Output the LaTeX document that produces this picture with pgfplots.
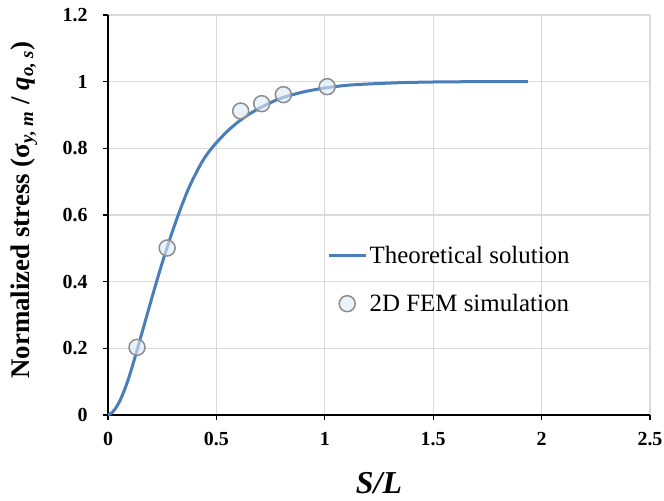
\documentclass[border=0pt]{standalone}
\usepackage{fontspec}
\setmainfont{Liberation Serif}
\usepackage{pgfplots}
\usetikzlibrary{calc}
\pgfplotsset{compat=1.18}
\definecolor{curve}{HTML}{4A7EBB}
\definecolor{mfill}{HTML}{DDEBF7}
\definecolor{medge}{HTML}{8C8C8C}
\definecolor{gridc}{HTML}{D9D9D9}
\begin{document}
\begin{tikzpicture}
\begin{axis}[
  scale only axis,
  width=542bp, height=400bp,
  xmin=0, xmax=2.5, ymin=0, ymax=1.2,
  xtick={0,0.5,1,1.5,2,2.5},
  ytick={0,0.2,0.4,0.6,0.8,1,1.2},
  axis x line*=bottom, axis y line*=left,
  axis line style={-, black, line width=1.2bp},
  grid=major,
  major grid style={gridc, line width=1.2bp},
  tick align=outside,
  major tick length=5bp,
  tick style={black, line width=1.2bp},
  /pgf/number format/assume math mode=true,
  ticklabel style={font=\fontsize{20}{20}\selectfont\bfseries},
  xticklabel style={yshift=-9bp},
  yticklabel style={xshift=-12bp},
  xlabel={\textbf{\textit{S/L}}},
  every axis x label/.style={at={(axis description cs:0.5,-0.17)}, anchor=center, font=\fontsize{32}{32}\selectfont},
  ylabel={\textbf{Normalized stress (σ\textsubscript{\textit{y, m}} / \textit{q}\textsubscript{\textit{o, s}})}},
  every axis y label/.style={at={(axis description cs:-0.155,0.5125)}, rotate=90, anchor=center, font=\fontsize{27}{27}\selectfont},
  legend style={draw=none, fill=none, at={(axis description cs:0.405,0.338)}, anchor=west,
    font=\fontsize{25}{25}\selectfont, row sep=25bp, inner sep=0pt,
    nodes={inner sep=2bp}},
  legend cell align=left,
  clip=false,
]
\addplot[curve, line width=3bp, smooth,
  legend image code/.code={\draw[line width=3bp, curve] (0bp,0bp) -- (37bp,0bp);}]
  coordinates {
(0,0) (0.02,0.008) (0.04,0.025) (0.06,0.05) (0.08,0.082) (0.1,0.12)
(0.12,0.163) (0.14,0.208) (0.16,0.254) (0.18,0.3) (0.2,0.346) (0.22,0.391)
(0.24,0.435) (0.26,0.477) (0.28,0.517) (0.3,0.556) (0.324,0.6) (0.347,0.64)
(0.37,0.677) (0.39,0.705) (0.424,0.748) (0.45,0.776) (0.478,0.8) (0.5,0.817)
(0.55,0.851) (0.6,0.879) (0.65,0.902) (0.7,0.921) (0.75,0.937) (0.8,0.951)
(0.9,0.969) (1.0,0.981) (1.1,0.989) (1.2,0.993) (1.35,0.997) (1.5,0.999)
(1.7,1.0) (1.937,1.0)
};
\addlegendentry{Theoretical solution}
\addplot[only marks, mark=*, mark size=8bp,
  mark options={fill=mfill, fill opacity=0.6, draw=medge, line width=1.5bp},
  legend image code/.code={\draw[mark repeat=2, mark phase=2] plot coordinates {(0bp,0bp) (18bp,0bp) (37bp,0bp)};}]
  coordinates {
(0.134,0.203) (0.273,0.501) (0.612,0.912) (0.709,0.934) (0.809,0.961) (1.011,0.985)
};
\addlegendentry{2D FEM simulation}
\end{axis}
\pgfresetboundingbox
\path ($(current axis.south west)+(-108bp,-86bp)$) rectangle ($(current axis.north east)+(14bp,15bp)$);
\end{tikzpicture}
\end{document}
